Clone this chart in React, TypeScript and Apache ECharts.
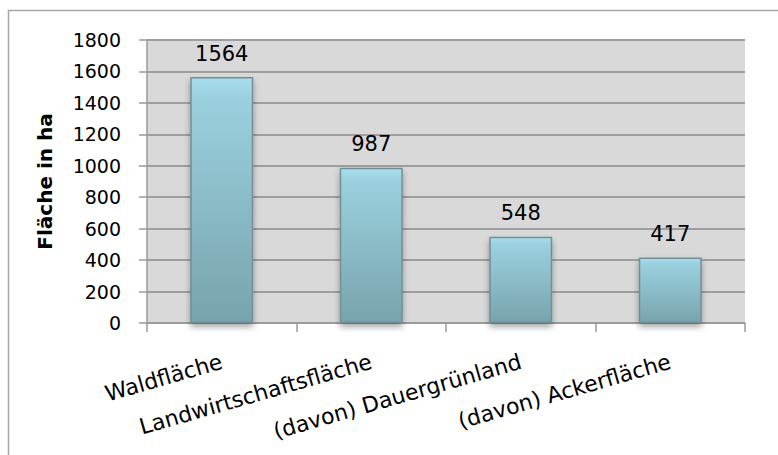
import React, { useEffect, useRef } from "react";
import * as echarts from "echarts";

const categories = ["Waldfläche", "Landwirtschaftsfläche", "(davon) Dauergrünland", "(davon) Ackerfläche"];
const values = [1564, 987, 548, 417];
const yMin = 0;
const yMax = 1800;
const yStep = 200;
const yTitle = "Fläche in ha";

const FONT = "'DejaVu Sans', sans-serif";

export default function App() {
  const ref = useRef<HTMLDivElement>(null);
  useEffect(() => {
    if (!ref.current) return;
    const chart = echarts.init(ref.current, null, { renderer: "svg" });
    chart.setOption({
      animation: false,
      backgroundColor: "#ffffff",
      graphic: [
        {
          type: "rect",
          shape: { x: 8.5, y: 10.5, width: 820, height: 500 },
          style: { fill: "none", stroke: "#a6a6a6", lineWidth: 1.5 },
          silent: true,
          z: -10,
        },
      ],
      grid: {
        left: 147,
        top: 40,
        right: 33,
        bottom: 132,
        show: true,
        backgroundColor: "#d9d9d9",
        borderWidth: 0,
      },
      xAxis: {
        type: "category",
        data: categories,
        axisLine: { show: true, lineStyle: { color: "#9a9a9a", width: 1.5 } },
        axisTick: { show: true, length: 9, lineStyle: { color: "#9a9a9a", width: 1.5 } },
        axisLabel: {
          rotate: 16,
          margin: 38,
          interval: 0,
          color: "#000",
          fontFamily: FONT,
          fontSize: 22,
        },
      },
      yAxis: {
        type: "value",
        min: yMin,
        max: yMax,
        interval: yStep,
        name: yTitle,
        nameLocation: "middle",
        nameGap: 92,
        nameRotate: 90,
        nameTextStyle: { fontFamily: FONT, fontSize: 20, fontWeight: "bold", color: "#000" },
        axisLine: { show: true, lineStyle: { color: "#9a9a9a", width: 1.5 } },
        axisTick: { show: true, length: 8, lineStyle: { color: "#9a9a9a", width: 1.5 } },
        axisLabel: {
          margin: 26,
          color: "#000",
          fontFamily: FONT,
          fontSize: 19,
          formatter: (v: number) => String(v),
        },
        splitLine: { show: true, lineStyle: { color: "#9e9e9e", width: 2 } },
      },
      series: [
        {
          type: "bar",
          data: values,
          barWidth: 63,
          itemStyle: {
            color: new echarts.graphic.LinearGradient(0, 0, 0, 1, [
              { offset: 0, color: "#a8deee" },
              { offset: 0.08, color: "#9bd0de" },
              { offset: 0.5, color: "#8bbcc8" },
              { offset: 1, color: "#77a3ae" },
            ]),
            borderColor: "#728f96",
            borderWidth: 1.5,
            shadowColor: "rgba(0,0,0,0.35)",
            shadowBlur: 6,
            shadowOffsetY: 4,
          },
          label: {
            show: true,
            position: "top",
            distance: 13,
            color: "#000",
            fontFamily: FONT,
            fontSize: 21,
          },
        },
      ],
    });
    return () => chart.dispose();
  }, []);
  return (
    <div
      ref={ref}
      style={{ position: "fixed", left: 0, top: 0, width: 778, height: 455 }}
    />
  );
}
